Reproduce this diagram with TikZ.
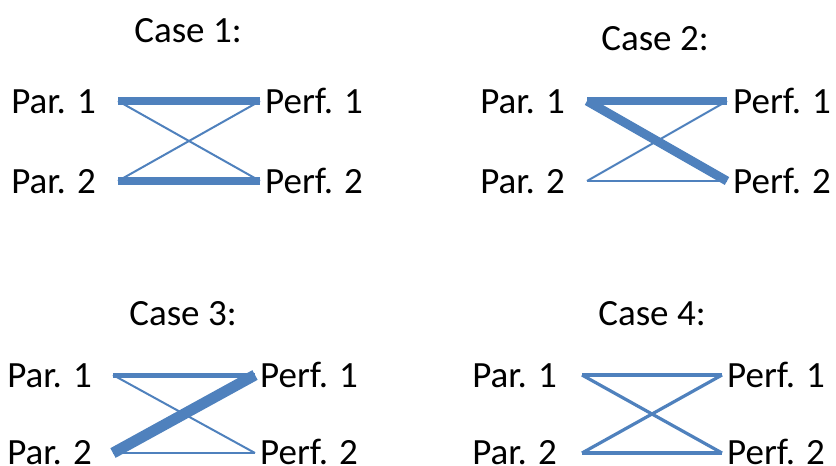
\documentclass[tikz,border=0pt]{standalone}
\usepackage{fontspec}
\setmainfont{Carlito}
\definecolor{linkblue}{HTML}{4F81BD}
\begin{document}
\begin{tikzpicture}[x=1pt,y=-1pt,
  lbl/.style={inner sep=0pt,font=\fontsize{37}{44}\selectfont},
  link/.style={draw=linkblue,line width=#1,line cap=butt},
  link/.default=2pt]
\useasboundingbox (0,0) rectangle (836,466);

% ---------- Case 1 ----------
\node[lbl,anchor=base] (t1) at (188,42) {Case 1:};
\coordinate (a1) at (118,101);
\coordinate (b1) at (118,181);
\coordinate (c1) at (260,101);
\coordinate (d1) at (260,181);
\node[lbl,anchor=base east] (pa1) at (96,113.5) {Par. 1};
\node[lbl,anchor=base east] (pb1) at (96,193.5) {Par. 2};
\node[lbl,anchor=base west] (pc1) at (265,113.5) {Perf. 1};
\node[lbl,anchor=base west] (pd1) at (265,193.5) {Perf. 2};
\draw[link] (a1) -- (d1);
\draw[link] (b1) -- (c1);
\draw[link=8pt] (a1) -- (c1);
\draw[link=8pt] (b1) -- (d1);

% ---------- Case 2 ----------
\node[lbl,anchor=base] (t2) at (655,50) {Case 2:};
\coordinate (a2) at (587,101);
\coordinate (b2) at (587,181);
\coordinate (c2) at (727,101);
\coordinate (d2) at (727,181);
\node[lbl,anchor=base east] (pa2) at (565,113.5) {Par. 1};
\node[lbl,anchor=base east] (pb2) at (565,193.5) {Par. 2};
\node[lbl,anchor=base west] (pc2) at (733,113.5) {Perf. 1};
\node[lbl,anchor=base west] (pd2) at (733,193.5) {Perf. 2};
\draw[link] (b2) -- (c2);
\draw[link] (b2) -- (d2);
\draw[link=8pt] (a2) -- (c2);
\draw[link=9pt] (a2) -- (d2);

% ---------- Case 3 ----------
\node[lbl,anchor=base] (t3) at (183,325) {Case 3:};
\coordinate (a3) at (113,375);
\coordinate (b3) at (113,453);
\coordinate (c3) at (255,375);
\coordinate (d3) at (255,453);
\node[lbl,anchor=base east] (pa3) at (92,387.5) {Par. 1};
\node[lbl,anchor=base east] (pb3) at (92,464.5) {Par. 2};
\node[lbl,anchor=base west] (pc3) at (260,387.5) {Perf. 1};
\node[lbl,anchor=base west] (pd3) at (260,464.5) {Perf. 2};
\draw[link] (a3) -- (d3);
\draw[link] (b3) -- (d3);
\draw[link=5pt] (a3) -- (c3);
\draw[link=11pt] (b3) -- (c3);

% ---------- Case 4 ----------
\node[lbl,anchor=base] (t4) at (652,325) {Case 4:};
\coordinate (a4) at (582,375);
\coordinate (b4) at (582,453);
\coordinate (c4) at (722,375);
\coordinate (d4) at (722,453);
\node[lbl,anchor=base east] (pa4) at (557,387.5) {Par. 1};
\node[lbl,anchor=base east] (pb4) at (557,464.5) {Par. 2};
\node[lbl,anchor=base west] (pc4) at (727,387.5) {Perf. 1};
\node[lbl,anchor=base west] (pd4) at (727,464.5) {Perf. 2};
\draw[link=3.2pt] (a4) -- (c4);
\draw[link=3.2pt] (b4) -- (d4);
\draw[link=3.2pt] (a4) -- (d4);
\draw[link=3.2pt] (b4) -- (c4);
\end{tikzpicture}
\end{document}
